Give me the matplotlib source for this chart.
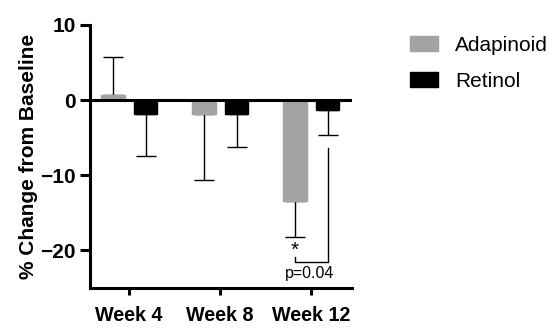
import matplotlib.pyplot as plt
from matplotlib.patches import Patch
import numpy as np

plt.rcParams['font.family'] = ['Liberation Sans', 'DejaVu Sans']

weeks = ['Week 4', 'Week 8', 'Week 12']
adapinoid = [0.7, -1.8, -13.4]
adapinoid_err = [5.1, 8.8, 4.9]
retinol = [-1.9, -1.9, -1.3]
retinol_err = [5.6, 4.4, 3.4]

x = np.arange(len(weeks))
w = 0.26
off = 0.18

fig = plt.figure(figsize=(5.6, 3.32), dpi=100)
ax = fig.add_axes([0.1607, 0.134, 0.468, 0.7907])

# error bars go one way only, away from zero
def one_sided(vals, errs):
    lo = [e if v < 0 else 0 for v, e in zip(vals, errs)]
    hi = [e if v >= 0 else 0 for v, e in zip(vals, errs)]
    return [lo, hi]

ax.bar(x - off, adapinoid, w, color='#a3a3a3', edgecolor='#a3a3a3', zorder=2)
ax.bar(x + off, retinol, w, color='black', edgecolor='black', zorder=2)
ax.errorbar(x - off, adapinoid, yerr=one_sided(adapinoid, adapinoid_err),
            fmt='none', ecolor='black', elinewidth=1, capsize=7, capthick=1, zorder=1)
ax.errorbar(x + off, retinol, yerr=one_sided(retinol, retinol_err),
            fmt='none', ecolor='black', elinewidth=1, capsize=7, capthick=1, zorder=1)

ax.axhline(0, color='black', lw=2.2, zorder=3)

# significance bracket at week 12
x1, x2 = 2 - off, 2 + off
ax.plot([x1, x1, x2, x2], [-20.9, -21.6, -21.6, -6.4], color='black', lw=1)
ax.text(x1, -20.0, '*', ha='center', va='center', fontsize=15)
ax.text(2 - 0.02, -23.1, 'p=0.04', ha='center', va='center', fontsize=11.5)

ax.set_xlim(-0.43, 2.45)
ax.set_ylim(-25, 10)
ax.set_yticks([10, 0, -10, -20])
ax.set_xticks(x)
ax.set_xticklabels(weeks, fontsize=14.2, fontweight='bold')
for t in ax.get_yticklabels():
    t.set_fontsize(15)
    t.set_fontweight('bold')
ax.set_ylabel('% Change from Baseline', fontsize=15, fontweight='bold', labelpad=2)

ax.spines['top'].set_visible(False)
ax.spines['right'].set_visible(False)
ax.spines['left'].set_linewidth(2.2)
ax.spines['bottom'].set_linewidth(2.2)
ax.tick_params(axis='y', length=7, width=2.2, pad=3)
ax.tick_params(axis='x', length=5, width=2.2, pad=8)

handles = [Patch(facecolor='#a3a3a3', edgecolor='#a3a3a3'),
           Patch(facecolor='black', edgecolor='black')]
fig.legend(handles, ['Adapinoid', 'Retinol'], loc='upper left',
           bbox_to_anchor=(0.733, 0.893), frameon=False, fontsize=15,
           handlelength=1.34, handleheight=0.72, handletextpad=0.8,
           labelspacing=0.82, borderpad=0, borderaxespad=0)

fig.savefig('out.png', dpi=100)
